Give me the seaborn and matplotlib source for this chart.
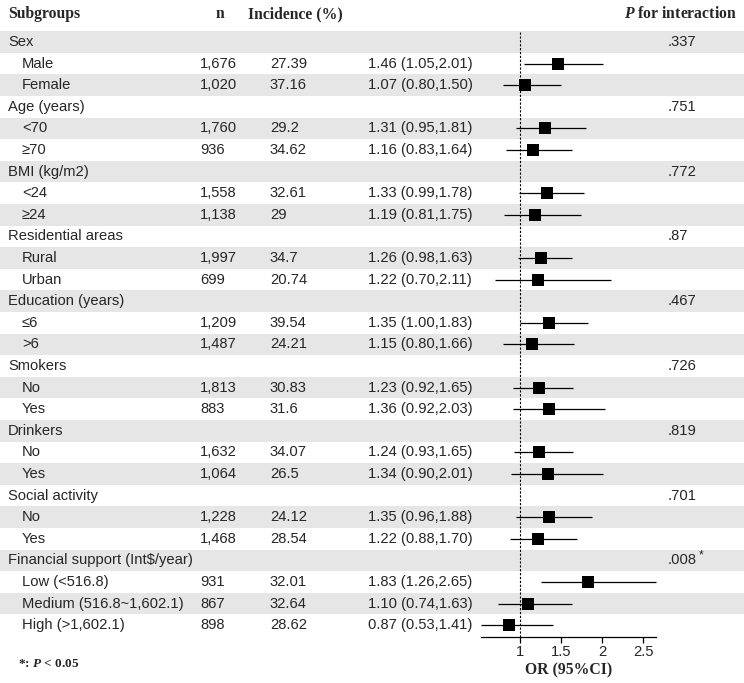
import matplotlib
matplotlib.use("Agg")
import matplotlib.pyplot as plt
import numpy as np
import pandas as pd
import seaborn as sns

# Data
labels = ["Sex", "Male", "Female", "Age (years)", "<70", "≥70", "BMI (kg/m2)", "<24", "≥24",
          "Residential areas", "Rural", "Urban", "Education (years)", "≤6", ">6",
          "Smokers", "No", "Yes", "Drinkers", "No", "Yes", "Social activity", "No", "Yes",
          "Financial support (Int$/year)", "Low (<516.8)", "Medium (516.8~1,602.1)", "High (>1,602.1)"]
is_header = [1, 0, 0, 1, 0, 0, 1, 0, 0, 1, 0, 0, 1, 0, 0, 1, 0, 0, 1, 0, 0, 1, 0, 0, 1, 0, 0, 0]
n_vals = ["1,676", "1,020", "1,760", "936", "1,558", "1,138", "1,997", "699", "1,209", "1,487",
          "1,813", "883", "1,632", "1,064", "1,228", "1,468", "931", "867", "898"]
incidence = ["27.39", "37.16", "29.2", "34.62", "32.61", "29", "34.7", "20.74", "39.54", "24.21",
             "30.83", "31.6", "34.07", "26.5", "24.12", "28.54", "32.01", "32.64", "28.62"]
or_est = [1.46, 1.07, 1.31, 1.16, 1.33, 1.19, 1.26, 1.22, 1.35, 1.15,
          1.23, 1.36, 1.24, 1.34, 1.35, 1.22, 1.83, 1.10, 0.87]
or_lo = [1.05, 0.80, 0.95, 0.83, 0.99, 0.81, 0.98, 0.70, 1.00, 0.80,
         0.92, 0.92, 0.93, 0.90, 0.96, 0.88, 1.26, 0.74, 0.53]
or_hi = [2.01, 1.50, 1.81, 1.64, 1.78, 1.75, 1.63, 2.11, 1.83, 1.66,
         1.65, 2.03, 1.65, 2.01, 1.88, 1.70, 2.65, 1.63, 1.41]
p_int = [".337", ".751", ".772", ".87", ".467", ".726", ".819", ".701", ".008"]
p_sig = [0, 0, 0, 0, 0, 0, 0, 0, 1]
x_ticks = [1, 1.5, 2, 2.5]

sns.set_theme(style="white")
plt.rcParams["font.family"] = ["Liberation Sans", "DejaVu Sans"]
plt.rcParams["mathtext.fontset"] = "custom"
plt.rcParams["mathtext.it"] = "Liberation Serif:italic:bold"
plt.rcParams["mathtext.rm"] = "Liberation Serif:bold"
SERIF = ["Liberation Serif", "DejaVu Serif"]
FS = 10.6
HFS = 11.3

W, H = 744, 683
fig = plt.figure(figsize=(W / 100, H / 100), dpi=100)

# row geometry in pixels
row0, row_h = 42.0, 21.6
def r(px):
    return (px - row0) / row_h

# background axes: x in pixels, y in row units
bg = fig.add_axes([0, 0, 1, 1])
bg.set_xlim(0, W)
bg.set_ylim(r(H), r(0))
bg.axis("off")

rows = np.arange(len(labels))
sub_rows = [i for i, h in enumerate(is_header) if not h]
head_rows = [i for i, h in enumerate(is_header) if h]

for i in rows:
    if i % 2 == 0:
        bg.axhspan(i - 0.5, i + 0.5, color="#e6e6e6", lw=0)

# column headers
hy = r(14)
bg.text(8, hy, "Subgroups", fontfamily=SERIF, fontweight="bold", fontsize=HFS, va="center")
bg.text(220, hy, "n", fontfamily=SERIF, fontweight="bold", fontsize=HFS, va="center", ha="center")
bg.text(248, hy, "Incidence (%)", fontfamily=SERIF, fontweight="bold", fontsize=HFS, va="center")
bg.text(737, hy, r"$P$ for interaction", fontfamily=SERIF, fontweight="bold",
        fontsize=HFS, va="center", ha="right")

for i, lab in enumerate(labels):
    bg.text(8 if is_header[i] else 22, i, lab, fontsize=FS, va="center")

for k, i in enumerate(sub_rows):
    bg.text(200, i, n_vals[k], fontsize=FS, va="center")
    bg.text(270, i, incidence[k], fontsize=FS, va="center")
    bg.text(368, i, f"{or_est[k]:.2f} ({or_lo[k]:.2f},{or_hi[k]:.2f})", fontsize=FS, va="center")

for k, i in enumerate(head_rows):
    bg.text(668, i, p_int[k], fontsize=FS, va="center")
    if p_sig[k]:
        bg.text(699, i - 0.22, "*", fontsize=8.5, va="center")

bg.text(18, r(664), r"*: $P$ < 0.05", fontfamily=SERIF, fontweight="bold", fontsize=9.5, va="center")

# forest axes
left_px, right_px = 481, 656
top_px, bot_px = 31, 637
ax = fig.add_axes([left_px / W, 1 - bot_px / H, (right_px - left_px) / W, (bot_px - top_px) / H])
ax.patch.set_alpha(0)
ax.set_ylim(r(bot_px), r(top_px))
ax.set_xlim(0.53, 2.655)

df = pd.DataFrame({"row": sub_rows, "est": or_est, "lo": or_lo, "hi": or_hi})
ax.hlines(df["row"], df["lo"], df["hi"], color="black", lw=0.9, clip_on=False)
sns.scatterplot(data=df, x="est", y="row", marker="s", s=64, color="black",
                edgecolor="black", linewidth=0, ax=ax, zorder=3, clip_on=False)
ax.axvline(1, color="black", lw=0.8, ls=(0, (2, 1.5)))

for side in ["top", "left", "right"]:
    ax.spines[side].set_visible(False)
ax.spines["bottom"].set_color("black")
ax.spines["bottom"].set_linewidth(0.9)
ax.set_yticks([])
ax.set_xticks(x_ticks)
ax.set_xticklabels(["1", "1.5", "2", "2.5"])
ax.tick_params(axis="x", direction="out", length=4, width=0.9, color="black",
               labelsize=FS, pad=2, bottom=True)
ax.set_xlabel("OR (95%CI)", fontfamily=SERIF, fontweight="bold", fontsize=HFS, labelpad=2)
ax.set_ylabel("")

fig.savefig("out.png", dpi=100)
